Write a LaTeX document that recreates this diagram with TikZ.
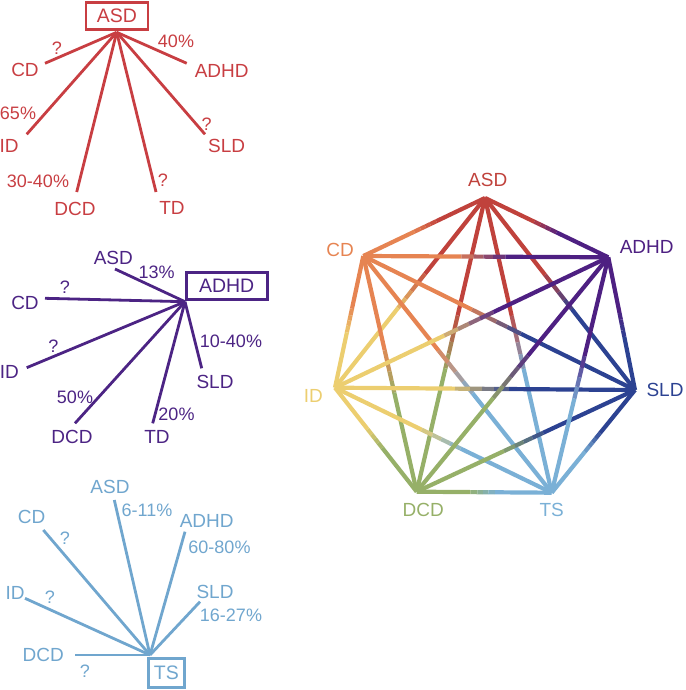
\documentclass[tikz,border=0pt]{standalone}
\usepackage{fontspec}
\setmainfont{Liberation Sans}
\usetikzlibrary{calc}
\definecolor{pRed}{RGB}{200,62,66}
\definecolor{pPur}{RGB}{76,36,132}
\definecolor{pBlu}{RGB}{112,166,206}
\definecolor{hASDc}{RGB}{192,66,60}
\definecolor{hADHDc}{RGB}{78,32,130}
\definecolor{hSLDc}{RGB}{44,66,146}
\definecolor{hTSc}{RGB}{122,176,214}
\definecolor{hDCDc}{RGB}{150,176,104}
\definecolor{hIDc}{RGB}{236,206,112}
\definecolor{hCDc}{RGB}{230,132,82}
\newcommand\gedge[4]{%
  \draw[hept,#3] (#1) -- ($(#1)!0.40!(#2)$);
  \draw[hept,#3!80!#4] ($(#1)!0.40!(#2)$) -- ($(#1)!0.45!(#2)$);
  \draw[hept,#3!60!#4] ($(#1)!0.45!(#2)$) -- ($(#1)!0.49!(#2)$);
  \draw[hept,#3!40!#4] ($(#1)!0.49!(#2)$) -- ($(#1)!0.53!(#2)$);
  \draw[hept,#3!20!#4] ($(#1)!0.53!(#2)$) -- ($(#1)!0.58!(#2)$);
  \draw[hept,#4] ($(#1)!0.58!(#2)$) -- (#2);
}
\begin{document}
\begin{tikzpicture}[x=1pt,y=-1pt,
  lbl/.style={font=\fontsize{19}{21}\selectfont, inner sep=0pt},
  pct/.style={font=\fontsize{18}{20}\selectfont, inner sep=0pt},
  boxlbl/.style={draw, line width=2.6pt, font=\fontsize{19.5}{21}\selectfont, inner sep=0pt},
  spoke/.style={line width=2.8pt},
  hept/.style={line width=4.2pt, line cap=butt}]
\useasboundingbox (0,0) rectangle (685,690);

% ---------------- Panel 1 : ASD (red) ----------------
\begin{scope}[pRed]
\node[boxlbl, minimum width=62, minimum height=27] (rBox) at (117,16) {ASD};
\coordinate (rHub) at (116.7,32.3);
\coordinate (rCDe) at (45,63.3);
\coordinate (rIDe) at (26.7,134.3);
\coordinate (rDCDe) at (76.7,192);
\coordinate (rTDe) at (156,192);
\coordinate (rSLDe) at (205,134.3);
\coordinate (rADHDe) at (186.7,63.3);
\foreach \e in {rCDe,rIDe,rDCDe,rTDe,rSLDe,rADHDe}
  \draw[spoke] (rHub) -- (\e);
\node[lbl] (rCD) at (25,70) {CD};
\node[lbl] (rID) at (9,145.7) {ID};
\node[lbl] (rDCD) at (75,209) {DCD};
\node[lbl] (rTD) at (172,208) {TD};
\node[lbl] (rSLD) at (226.7,145.7) {SLD};
\node[lbl] (rADHD) at (221.7,71) {ADHD};
\node[pct] (rp1) at (57,48) {?};
\node[pct] (rp2) at (18,113) {65\%};
\node[pct] (rp3) at (38,181.7) {30-40\%};
\node[pct] (rp4) at (163,180) {?};
\node[pct] (rp5) at (206.7,124) {?};
\node[pct] (rp6) at (176,41.7) {40\%};
\end{scope}

% ---------------- Panel 2 : ADHD (purple) ----------------
\begin{scope}[pPur]
\node[boxlbl, minimum width=81, minimum height=27] (pBox) at (226.7,286) {ADHD};
\coordinate (pHub) at (185,301.7);
\coordinate (pASDe) at (115,269);
\coordinate (pCDe) at (45,298.3);
\coordinate (pIDe) at (26.7,367.7);
\coordinate (pDCDe) at (75,423.3);
\coordinate (pTDe) at (152.7,423.3);
\coordinate (pSLDe) at (201.7,368.3);
\foreach \e in {pASDe,pCDe,pIDe,pDCDe,pTDe,pSLDe}
  \draw[spoke] (pHub) -- (\e);
\node[lbl] (pASD) at (113.3,257.7) {ASD};
\node[lbl] (pCD) at (25,303.3) {CD};
\node[lbl] (pID) at (9.3,372.3) {ID};
\node[lbl] (pDCD) at (72,437) {DCD};
\node[lbl] (pTD) at (157,437) {TD};
\node[lbl] (pSLD) at (215,381.7) {SLD};
\node[pct] (pp1) at (156.7,272.7) {13\%};
\node[pct] (pp2) at (65,287.7) {?};
\node[pct] (pp3) at (53.3,346.7) {?};
\node[pct] (pp4) at (75,397.3) {50\%};
\node[pct] (pp5) at (176.5,414) {20\%};
\node[pct] (pp6) at (231,341) {10-40\%};
\end{scope}

% ---------------- Panel 3 : TS (light blue) ----------------
\begin{scope}[pBlu]
\node[boxlbl, minimum width=36, minimum height=29] (bBox) at (166.3,673) {TS};
\coordinate (bHub) at (150,655);
\coordinate (bASDe) at (114.3,500);
\coordinate (bADHDe) at (185,531.7);
\coordinate (bSLDe) at (200,601.7);
\coordinate (bCDe) at (43.3,530);
\coordinate (bIDe) at (25,598.3);
\coordinate (bDCDe) at (75,655);
\foreach \e in {bASDe,bADHDe,bSLDe,bCDe,bIDe,bDCDe}
  \draw[spoke] (bHub) -- (\e);
\node[lbl] (bASD) at (110,486.7) {ASD};
\node[lbl] (bADHD) at (206.7,520.7) {ADHD};
\node[lbl] (bSLD) at (215,591.7) {SLD};
\node[lbl] (bCD) at (31.7,516.7) {CD};
\node[lbl] (bID) at (15,592.7) {ID};
\node[lbl] (bDCD) at (43.3,655) {DCD};
\node[pct] (bp1) at (147,510.7) {6-11\%};
\node[pct] (bp2) at (219.5,547.3) {60-80\%};
\node[pct] (bp3) at (231,615) {16-27\%};
\node[pct] (bp4) at (65,538.3) {?};
\node[pct] (bp5) at (50,597.3) {?};
\node[pct] (bp6) at (85,671) {?};
\end{scope}

% ---------------- Heptagon ----------------
\coordinate (hASD) at (485,198);
\coordinate (hADHD) at (608.3,257.3);
\coordinate (hSLD) at (635,390);
\coordinate (hTS) at (551.7,492.7);
\coordinate (hDCD) at (416.7,491.7);
\coordinate (hID) at (335,387.7);
\coordinate (hCD) at (363.3,256);

\gedge{hASD}{hADHD}{hASDc}{hADHDc}
\gedge{hASD}{hSLD}{hASDc}{hSLDc}
\gedge{hASD}{hTS}{hASDc}{hTSc}
\gedge{hASD}{hDCD}{hASDc}{hDCDc}
\gedge{hASD}{hID}{hASDc}{hIDc}
\gedge{hASD}{hCD}{hASDc}{hCDc}
\gedge{hCD}{hADHD}{hCDc}{hADHDc}
\gedge{hCD}{hSLD}{hCDc}{hSLDc}
\gedge{hCD}{hTS}{hCDc}{hTSc}
\gedge{hCD}{hDCD}{hCDc}{hDCDc}
\gedge{hCD}{hID}{hCDc}{hIDc}
\gedge{hID}{hADHD}{hIDc}{hADHDc}
\gedge{hID}{hSLD}{hIDc}{hSLDc}
\gedge{hID}{hTS}{hIDc}{hTSc}
\gedge{hID}{hDCD}{hIDc}{hDCDc}
\gedge{hDCD}{hADHD}{hDCDc}{hADHDc}
\gedge{hDCD}{hSLD}{hDCDc}{hSLDc}
\gedge{hDCD}{hTS}{hDCDc}{hTSc}
\gedge{hTS}{hADHD}{hTSc}{hADHDc}
\gedge{hTS}{hSLD}{hTSc}{hSLDc}
\gedge{hSLD}{hADHD}{hSLDc}{hADHDc}

\node[lbl, hASDc] (lASD) at (487.7,180) {ASD};
\node[lbl, hADHDc] (lADHD) at (646.7,247.3) {ADHD};
\node[lbl, hSLDc] (lSLD) at (665,390) {SLD};
\node[lbl, hTSc] (lTS) at (551.7,510) {TS};
\node[lbl, hDCDc] (lDCD) at (423.3,510) {DCD};
\node[lbl, hIDc] (lID) at (313.3,396) {ID};
\node[lbl, hCDc] (lCD) at (340,250) {CD};
\end{tikzpicture}
\end{document}
